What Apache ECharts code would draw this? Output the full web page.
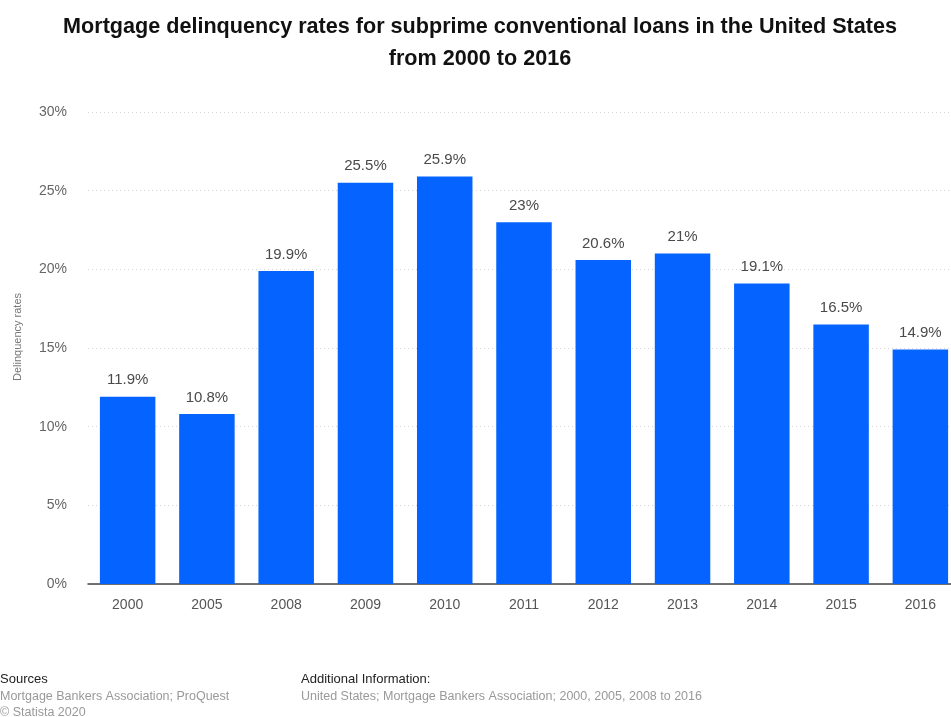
<!DOCTYPE html>
<html>
<head>
<meta charset="utf-8">
<script src="https://cdn.jsdelivr.net/npm/echarts@6/dist/echarts.min.js"></script>
<style>
  html, body { margin: 0; padding: 0; background: #fff; overflow: hidden; }
  /* the drawing is a little wider than the window; its right edge is cropped */
  #chart { width: 960px; height: 717px; }
</style>
</head>
<body>
<div id="chart"></div>
<script>
// Subprime conventional loan delinquency rates, percent
const years = ['2000', '2005', '2008', '2009', '2010', '2011', '2012', '2013', '2014', '2015', '2016'];
const rates = [11.9, 10.8, 19.9, 25.5, 25.9, 23, 20.6, 21, 19.1, 16.5, 14.9];
const yTicks = { min: 0, max: 30, step: 5 };

const FONT = '"Liberation Sans", Arial, Helvetica, sans-serif';
const chart = echarts.init(document.getElementById('chart'), null, { renderer: 'canvas' });

chart.setOption({
  backgroundColor: '#ffffff',
  animation: false,
  title: {
    text: 'Mortgage delinquency rates for subprime conventional loans in the United States\nfrom 2000 to 2016',
    left: 'center',
    top: 6,
    textStyle: { fontFamily: FONT, fontSize: 21.6, fontWeight: 'bold', color: '#111', lineHeight: 32 }
  },
  grid: { left: 88, right: 0, top: 112, bottom: 133, containLabel: false },
  xAxis: {
    type: 'category',
    data: years,
    axisLine: { lineStyle: { color: '#444', width: 1.5 } },
    axisTick: { show: false },
    axisLabel: { color: '#555', fontFamily: FONT, fontSize: 14, margin: 14 }
  },
  yAxis: {
    type: 'value',
    min: yTicks.min,
    max: yTicks.max,
    interval: yTicks.step,
    axisLine: { show: false },
    axisTick: { show: false },
    axisLabel: { formatter: '{value}%', color: '#666', fontFamily: FONT, fontSize: 14, margin: 21 },
    splitLine: { lineStyle: { color: '#d6d6d6', type: [1, 3], width: 1 } }
  },
  series: [{
    type: 'bar',
    data: rates,
    barCategoryGap: '30%',
    itemStyle: { color: '#0564ff' },
    label: {
      show: true,
      position: 'top',
      distance: 9,
      formatter: p => p.value + '%',
      color: '#4a4a4a',
      fontFamily: FONT,
      fontSize: 15
    }
  }],
  graphic: [
    {
      type: 'text', x: 18, y: 337, rotation: Math.PI / 2,
      style: { text: 'Delinquency rates', fill: '#777', font: '11px ' + FONT, align: 'center', verticalAlign: 'middle' }
    },
    { type: 'text', left: 0, top: 673, style: { text: 'Sources', fill: '#222', font: '13px ' + FONT } },
    { type: 'text', left: 0, top: 690, style: { text: 'Mortgage Bankers Association; ProQuest', fill: '#999', font: '12.5px ' + FONT } },
    { type: 'text', left: 0, top: 706, style: { text: '© Statista 2020', fill: '#999', font: '12.5px ' + FONT } },
    { type: 'text', left: 301, top: 673, style: { text: 'Additional Information:', fill: '#222', font: '13px ' + FONT } },
    { type: 'text', left: 301, top: 690, style: { text: 'United States; Mortgage Bankers Association; 2000, 2005, 2008 to 2016', fill: '#999', font: '12.5px ' + FONT } }
  ]
});
</script>
</body>
</html>
